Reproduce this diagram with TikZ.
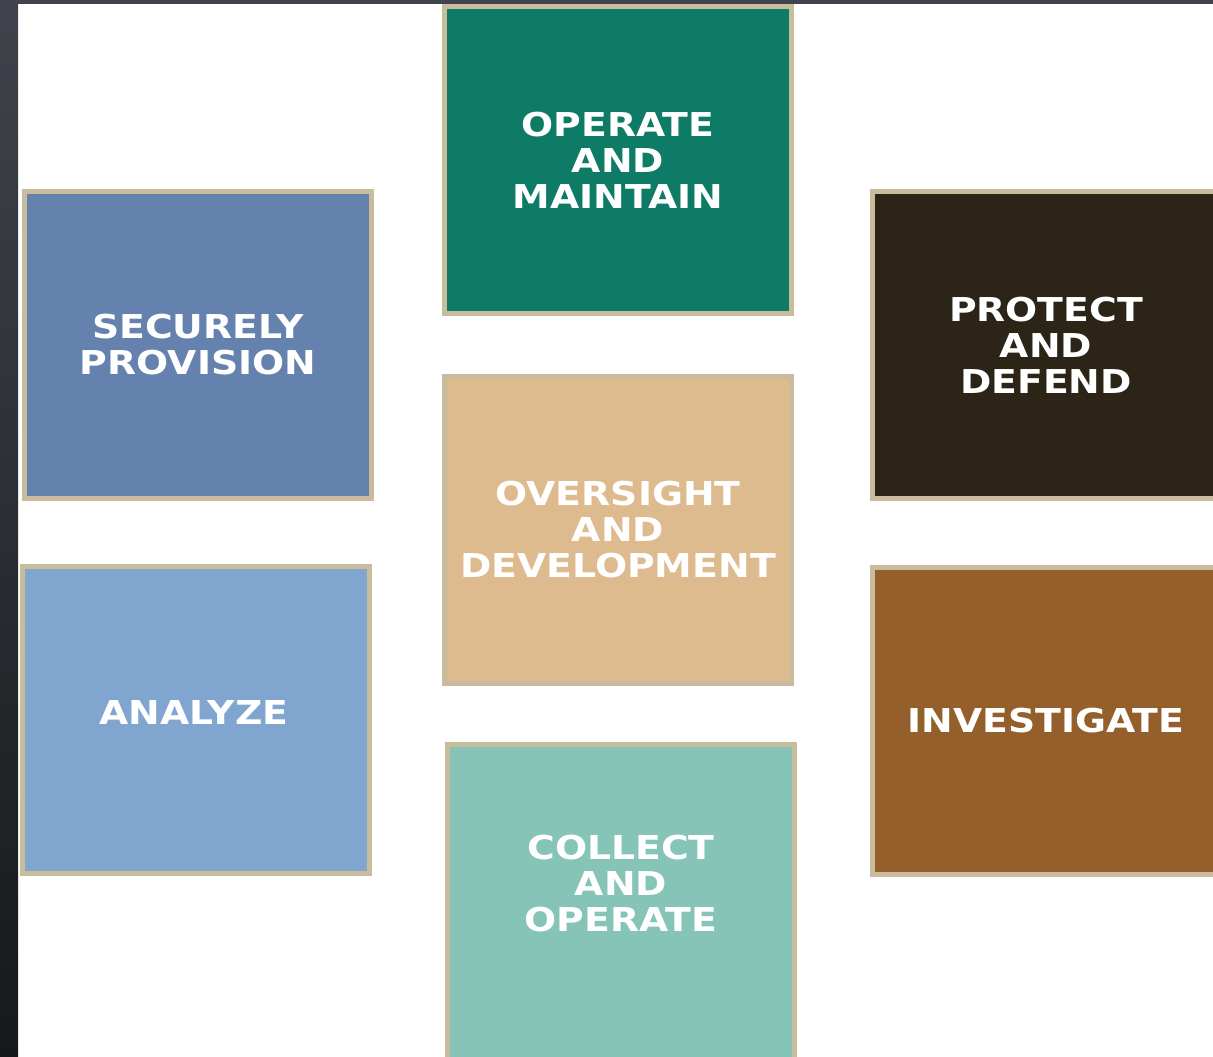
\documentclass[tikz,border=0pt]{standalone}
\usepackage{fontspec}
\newfontfamily\tilefont[FakeStretch=1.15]{DejaVu Sans}
\definecolor{tileedge}{HTML}{C8BC9D}
\definecolor{stripgray}{HTML}{40434B}
\definecolor{stripdark}{HTML}{17181B}
\definecolor{operatecol}{HTML}{0E7B67}
\definecolor{provisioncol}{HTML}{6582AE}
\definecolor{protectcol}{HTML}{2C2517}
\definecolor{oversightcol}{HTML}{DEBB8E}
\definecolor{analyzecol}{HTML}{80A6CF}
\definecolor{investigatecol}{HTML}{945F2B}
\definecolor{collectcol}{HTML}{86C4B8}

\begin{document}
\begin{tikzpicture}[x=0.02cm,y=-0.02cm,
	tile/.style={draw=tileedge, line width=0.1cm, minimum width=6.94cm, minimum height=6.14cm, inner sep=0pt},
	caption/.style={text=white, align=center, inner sep=0pt,
		font=\tilefont\bfseries\fontsize{18.7}{20.5}\selectfont}]
	\clip (0,0) rectangle (1213,1056);
	\fill[white] (0,0) rectangle (1213,1056);
	\shade[top color=stripgray, bottom color=stripdark] (0,0) rectangle (18,1056);
	\fill[stripgray] (0,0) rectangle (1213,4);
	\node[tile, fill=operatecol] (operate) at (618,160) {};
	\node[tile, fill=provisioncol] (provision) at (198,345) {};
	\node[tile, fill=protectcol] (protect) at (1046,345) {};
	\node[tile, fill=oversightcol] (oversight) at (618,530) {};
	\node[tile, fill=analyzecol] (analyze) at (196,720) {};
	\node[tile, fill=investigatecol] (investigate) at (1046,721) {};
	\node[tile, fill=collectcol, minimum height=7cm] (collect) at (621,919) {};
	\node[caption] (operatetext) at (operate) {OPERATE\\AND\\MAINTAIN};
	\node[caption] (provisiontext) at (provision) {SECURELY\\PROVISION};
	\node[caption] (protecttext) at (protect) {PROTECT\\AND\\DEFEND};
	\node[caption] (oversighttext) at (oversight) {OVERSIGHT\\AND\\DEVELOPMENT};
	\node[caption] (analyzetext) at (194,713) {ANALYZE};
	\node[caption] (investigatetext) at (investigate) {INVESTIGATE};
	\node[caption] (collecttext) at (621,884) {COLLECT\\AND\\OPERATE};
\end{tikzpicture}
\end{document}
